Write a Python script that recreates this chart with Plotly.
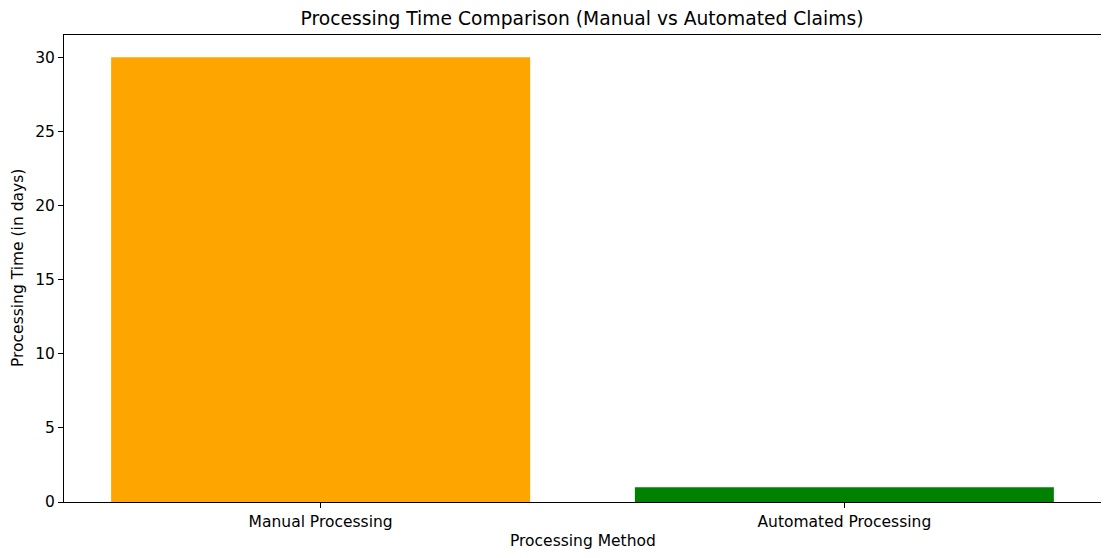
import plotly.graph_objects as go

categories = ["Manual Processing", "Automated Processing"]
times = [30, 1]
colors = ["orange", "green"]

FONT = "DejaVu Sans"
x_pos = list(range(len(categories)))

# page body has an 8px margin, so the figure is drawn 8px smaller and offset
W, H = 1101, 550
TICK = 15.5
TITLE = 18.7

fig = go.Figure(go.Bar(
    x=x_pos, y=times, width=0.8, marker=dict(color=colors, line=dict(width=0)),
))

fig.update_layout(
    width=W, height=H,
    margin=dict(l=55.5, r=8, t=27, b=56, autoexpand=False),
    paper_bgcolor="white", plot_bgcolor="white",
    font=dict(family=FONT, size=TICK, color="black"),
    showlegend=False,
    title=dict(text="Processing Time Comparison (Manual vs Automated Claims)",
               x=574 / W, xanchor="center", xref="container",
               y=1 - 10 / H, yanchor="middle", yref="container",
               font=dict(family=FONT, size=TITLE, color="black")),
    annotations=[
        dict(text="Processing Method", xref="paper", yref="paper", x=0.5, y=-(541 - 502) / 467,
             xanchor="center", yanchor="middle", showarrow=False,
             font=dict(family=FONT, size=TICK, color="black")),
        dict(text="Processing Time (in days)", xref="paper", yref="paper",
             x=-(63.5 - 17) / 1037.5, y=0.5, textangle=-90,
             xanchor="center", yanchor="middle", showarrow=False,
             font=dict(family=FONT, size=TICK, color="black")),
    ],
)

fig.update_xaxes(
    range=[-0.49, 1.49], tickvals=x_pos, ticktext=categories, automargin=False,
    showline=True, linecolor="black", linewidth=1, mirror=True,
    ticks="outside", ticklen=5, tickcolor="black", showgrid=False, zeroline=False,
    tickfont=dict(family=FONT, size=TICK, color="black"),
)
fig.update_yaxes(
    range=[0, 31.5], tickvals=[0, 5, 10, 15, 20, 25, 30], automargin=False,
    showline=True, linecolor="black", linewidth=1, mirror=True,
    ticks="outside", ticklen=5, tickcolor="black", showgrid=False, zeroline=False,
    tickfont=dict(family=FONT, size=TICK, color="black"),
)

fig.write_html("out.html")
